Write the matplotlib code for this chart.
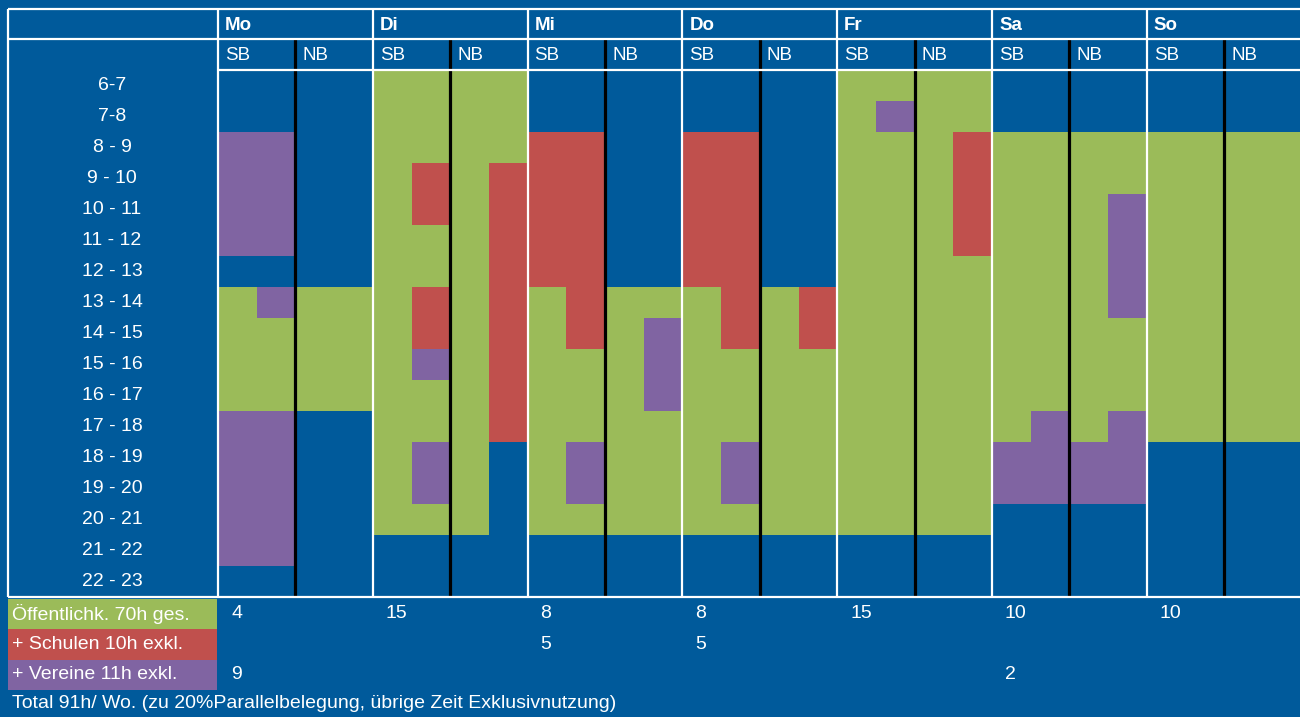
import numpy as np
import matplotlib
matplotlib.use("Agg")
import matplotlib.pyplot as plt
from matplotlib.colors import ListedColormap

# ---- data -------------------------------------------------------------
days = ["Mo", "Di", "Mi", "Do", "Fr", "Sa", "So"]
halves = ["SB", "NB"]
hours = ["6-7", "7-8", "8 - 9", "9 - 10", "10 - 11", "11 - 12", "12 - 13",
         "13 - 14", "14 - 15", "15 - 16", "16 - 17", "17 - 18", "18 - 19",
         "19 - 20", "20 - 21", "21 - 22", "22 - 23"]

# one string per hour, 4 sub-slots per day (SB, SB, NB, NB)
# B = frei, G = Oeffentlichkeit, R = Schulen, P = Vereine
schedule = [
    "BBBB GGGG BBBB BBBB GGGG BBBB BBBB",
    "BBBB GGGG BBBB BBBB GPGG BBBB BBBB",
    "PPBB GGGG RRBB RRBB GGGR GGGG GGGG",
    "PPBB GRGR RRBB RRBB GGGR GGGG GGGG",
    "PPBB GRGR RRBB RRBB GGGR GGGP GGGG",
    "PPBB GGGR RRBB RRBB GGGR GGGP GGGG",
    "BBBB GGGR RRBB RRBB GGGG GGGP GGGG",
    "GPGG GRGR GRGG GRGR GGGG GGGP GGGG",
    "GGGG GRGR GRGP GRGR GGGG GGGG GGGG",
    "GGGG GPGR GGGP GGGG GGGG GGGG GGGG",
    "GGGG GGGR GGGP GGGG GGGG GGGG GGGG",
    "PPBB GGGR GGGG GGGG GGGG GPGP GGGG",
    "PPBB GPGB GPGG GPGG GGGG PPPP BBBB",
    "PPBB GPGB GPGG GPGG GGGG PPPP BBBB",
    "PPBB GGGB GGGG GGGG GGGG BBBB BBBB",
    "PPBB BBBB BBBB BBBB BBBB BBBB BBBB",
    "BBBB BBBB BBBB BBBB BBBB BBBB BBBB",
]

legend_labels = ["Öffentlichk. 70h ges.", "+ Schulen 10h exkl.", "+ Vereine 11h exkl."]
oeff_hours = ["4", "15", "8", "8", "15", "10", "10"]
schulen_hours = ["", "", "5", "5", "", "", ""]
vereine_hours = ["9", "", "", "", "", "2", ""]
footer = "Total 91h/ Wo. (zu 20%Parallelbelegung, übrige Zeit Exklusivnutzung)"

# ---- style ------------------------------------------------------------
BLUE = "#005A9B"
GREEN = "#9BBB59"
RED = "#C0504D"
PURPLE = "#8064A2"
code_colors = {"B": 0, "G": 1, "R": 2, "P": 3}

plt.rcParams["font.family"] = ["Liberation Sans", "DejaVu Sans"]

# layout in pixels
W, H = 1300, 717
LEFT = 8
GRID_X0 = 218
DAY_W = 154.8
SUB_W = DAY_W / 4
TOP = 9
HEAD2 = 39
ROW_Y0 = 70
ROW_H = 31
LEG_H = 30.5
FS = 14
FS_HEAD = 13.5

fig = plt.figure(figsize=(W / 100, H / 100), dpi=100, facecolor=BLUE)
ax = fig.add_axes([0, 0, 1, 1])
ax.set_xlim(0, W)
ax.set_ylim(H, 0)
ax.axis("off")
ax.set_facecolor(BLUE)

grid = np.array([[code_colors[c] for c in row.replace(" ", "")] for row in schedule])
n_rows, n_cols = grid.shape
xe = GRID_X0 + np.arange(n_cols + 1) * SUB_W
ye = ROW_Y0 + np.arange(n_rows + 1) * ROW_H
cmap = ListedColormap([BLUE, GREEN, RED, PURPLE])
ax.pcolormesh(xe, ye, grid, cmap=cmap, vmin=-0.5, vmax=3.5,
              shading="flat", edgecolors="none", antialiased=False)

grid_bottom = ye[-1]
day_x = GRID_X0 + np.arange(len(days)) * DAY_W

# black separators between SB and NB
ax.vlines(day_x + DAY_W / 2, HEAD2, grid_bottom, color="black", lw=2.3, zorder=3)

# white frame lines
wlw = 1.6
ax.hlines([TOP, HEAD2, grid_bottom], LEFT, W, color="white", lw=wlw, zorder=4)
ax.hlines(ROW_Y0, GRID_X0, W, color="white", lw=wlw, zorder=4)
ax.vlines(np.r_[LEFT, day_x], TOP, grid_bottom, color="white", lw=wlw, zorder=4)

# headers
for i, d in enumerate(days):
    ax.text(day_x[i] + 7, (TOP + HEAD2) / 2 + 1, d, color="white", fontsize=FS_HEAD,
            fontweight="bold", va="center", ha="left")
    for j, h in enumerate(halves):
        ax.text(day_x[i] + j * DAY_W / 2 + 7, (HEAD2 + ROW_Y0) / 2 + 1, h,
                color="white", fontsize=FS_HEAD, va="center", ha="left")

# hour labels
for r, lab in enumerate(hours):
    ax.text((LEFT + GRID_X0) / 2 - 1, ye[r] + ROW_H / 2, lab, color="white",
            fontsize=FS, va="center", ha="center")

# legend rows with per-day counts
leg_colors = [GREEN, RED, PURPLE]
leg_values = [oeff_hours, schulen_hours, vereine_hours]
for k, (lab, col, vals) in enumerate(zip(legend_labels, leg_colors, leg_values)):
    y0 = grid_bottom + 1.5 + k * LEG_H
    ax.add_patch(plt.Rectangle((LEFT, y0), GRID_X0 - LEFT - 1, LEG_H,
                               facecolor=col, edgecolor="none"))
    ax.text(LEFT + 4, y0 + LEG_H / 2, lab, color="white", fontsize=FS,
            va="center", ha="left")
    for i, v in enumerate(vals):
        if v:
            ax.text(day_x[i] + 13, y0 + LEG_H / 2, v, color="white",
                    fontsize=FS, va="center", ha="left")

ax.text(LEFT + 4, grid_bottom + 1.5 + 3 * LEG_H + 14, footer, color="white",
        fontsize=FS, va="center", ha="left")

fig.savefig("out.png", dpi=100, facecolor=BLUE)
